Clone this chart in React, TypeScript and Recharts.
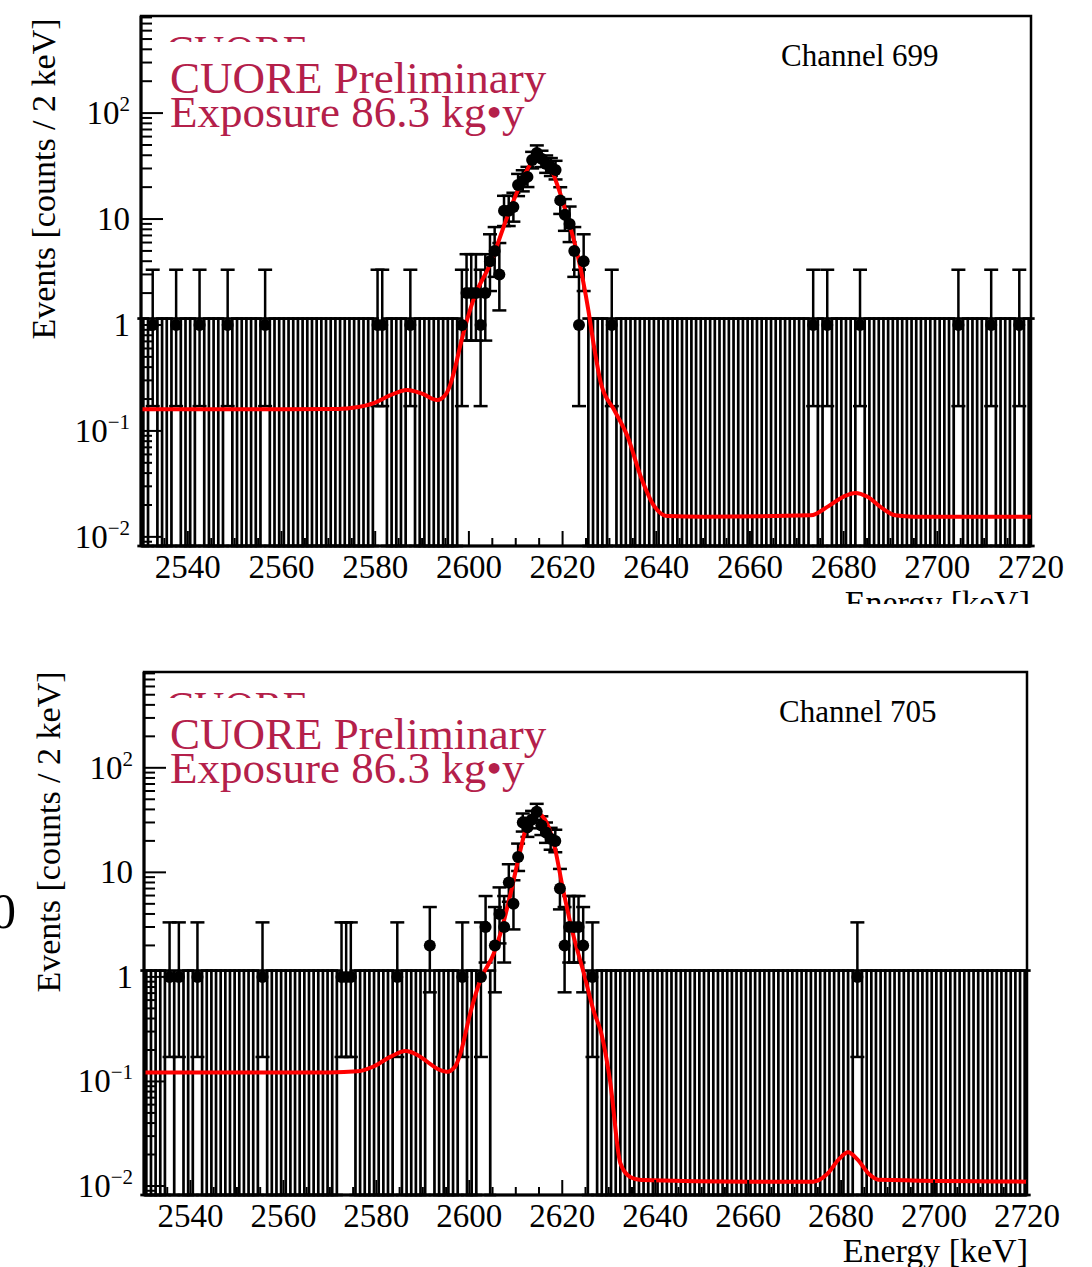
import React from "react";
import {
  ComposedChart,
  Scatter,
  Line,
  XAxis,
  YAxis,
  ErrorBar,
  ReferenceArea,
} from "recharts";

const SERIF = "'Liberation Serif', 'Times New Roman', serif";
const LABEL_RED = "#b4204a";

// histogram: 1 keV bins over the fit window
const E_MIN = 2530;
const E_MAX = 2720;
const BIN_WIDTH = 1;

const Y_MIN = 0.0082;
const Y_MAX = 825;

const X_LABEL_TICKS = [2540, 2560, 2580, 2600, 2620, 2640, 2660, 2680, 2700, 2720];
const X_MINOR_TICKS = [
  2530, 2535, 2540, 2545, 2550, 2555, 2560, 2565, 2570, 2575, 2580, 2585, 2590, 2595,
  2600, 2605, 2610, 2615, 2620, 2625, 2630, 2635, 2640, 2645, 2650, 2655, 2660, 2665,
  2670, 2675, 2680, 2685, 2690, 2695, 2700, 2705, 2710, 2715, 2720,
];

const Y_MAJOR = [0.01, 0.1, 1, 10, 100];
const Y_LABEL_BASE = ["10", "10", "1", "10", "10"];
const Y_LABEL_EXP = ["\u22122", "\u22121", "", "", "2"];
const Y_DECADES = [0.001, 0.01, 0.1, 1, 10, 100];
const Y_MULTS = [1, 2, 3, 4, 5, 6, 7, 8, 9];

// upper edge drawn for empty bins
const EMPTY_BIN_UPPER = 1.15;

// Channel 699 — non-empty bins (bin centre, keV) and counts
const CH699_BIN_E = [
  2532.5, 2537.5, 2542.5, 2548.5, 2556.5, 2580.5, 2581.5, 2587.5,
  2598.5, 2599.5, 2600.5, 2601.5, 2602.5, 2603.5, 2604.5, 2605.5, 2606.5, 2607.5,
  2608.5, 2609.5, 2610.5, 2611.5, 2612.5, 2613.5, 2614.5, 2615.5, 2616.5, 2617.5,
  2618.5, 2619.5, 2620.5, 2621.5, 2622.5, 2623.5, 2624.5,
  2630.5, 2673.5, 2676.5, 2683.5, 2704.5, 2711.5, 2717.5,
];
const CH699_COUNTS = [
  1, 1, 1, 1, 1, 1, 1, 1,
  1, 2, 2, 2, 1, 2, 4, 5, 3, 12,
  12, 13, 21, 23, 25, 36, 42, 37, 33, 31,
  29, 15, 11, 9, 5, 1, 4,
  1, 1, 1, 1, 1, 1, 1,
];
const CH699_FIT_E = [
  2530, 2560, 2572, 2576, 2579.7, 2583, 2586.8, 2590, 2593.2, 2595, 2596.1, 2597.2,
  2598.2, 2601.1, 2604.6, 2608.2, 2611.1, 2613.3, 2615.1, 2616.9, 2619, 2621.2, 2623.3,
  2625.5, 2626.6, 2628.2, 2631, 2633.9, 2636.7, 2639.6, 2642.4, 2650, 2673, 2676.7,
  2680, 2682.5, 2685, 2688, 2691, 2695, 2720,
];
const CH699_FIT_Y = [
  0.16, 0.16, 0.161, 0.167, 0.183, 0.215, 0.244, 0.225, 0.196, 0.22, 0.28, 0.42,
  0.65, 1.8, 3.8, 10.5, 21.8, 33.6, 37.2, 33.6, 20.2, 9.8, 4.4,
  1.38, 0.67, 0.28, 0.158, 0.088, 0.037, 0.0194, 0.0157, 0.0155, 0.016, 0.0194,
  0.024, 0.026, 0.024, 0.019, 0.016, 0.0155, 0.0155,
];

// Channel 705
const CH705_BIN_E = [
  2535.5, 2537.5, 2541.5, 2555.5, 2572.5, 2573.5, 2574.5, 2584.5, 2591.5,
  2598.5, 2602.5, 2603.5, 2605.5, 2606.5, 2607.5, 2608.5, 2609.5, 2610.5, 2611.5,
  2612.5, 2613.5, 2614.5, 2615.5, 2616.5, 2617.5, 2618.5, 2619.5, 2620.5, 2621.5,
  2622.5, 2623.5, 2624.5, 2626.5, 2683.5,
];
const CH705_COUNTS = [
  1, 1, 1, 1, 1, 1, 1, 1, 2,
  1, 1, 3, 2, 4, 3, 8, 5, 14, 30,
  27, 32, 38, 28, 24, 21, 20, 7, 2, 3,
  3, 3, 2, 1, 1,
];
const CH705_FIT_E = [
  2530, 2570, 2576, 2579.4, 2583, 2586.3, 2588.5, 2590.9, 2593, 2595.2, 2597, 2598.1,
  2600.2, 2602.4, 2605.2, 2606.7, 2608.9, 2611, 2612.8, 2614.6, 2616.7, 2618.5, 2619.9,
  2622.1, 2624.6, 2626.9, 2628.3, 2630.3, 2632.5, 2634.6, 2637, 2660, 2674, 2677,
  2679.5, 2681.5, 2683.5, 2686, 2688, 2720,
];
const CH705_FIT_Y = [
  0.122, 0.122, 0.125, 0.139, 0.172, 0.195, 0.182, 0.155, 0.133, 0.124, 0.14, 0.186,
  0.45, 0.94, 1.65, 2.6, 6.3, 16.4, 31.8, 36.8, 29.5, 16.4, 7.9,
  2.8, 1.1, 0.45, 0.3, 0.1, 0.0165, 0.0122, 0.0114, 0.011, 0.011, 0.013,
  0.018, 0.021, 0.018, 0.013, 0.0115, 0.011,
];

const Y_TICKS = Y_DECADES.flatMap((d) => Y_MULTS.map((m) => d * m)).filter(
  (v) => v >= Y_MIN && v <= Y_MAX
);

// approximate Poisson (Gehrels) interval, as ROOT draws for counts
function poissonLow(n: number) {
  const t = 1 - 1 / (9 * n) - 1 / (3 * Math.sqrt(n));
  return n - n * t * t * t;
}
function poissonHigh(n: number) {
  return Math.sqrt(n + 0.75) + 1;
}

function buildBins(binE: number[], counts: number[]) {
  const filled: { e: number; y: number; err: number[] }[] = [];
  const empty: { e: number; y: number; err: number[] }[] = [];
  const nBins = Math.round((E_MAX - E_MIN) / BIN_WIDTH);
  for (let i = 0; i < nBins; i++) {
    const e = E_MIN + (i + 0.5) * BIN_WIDTH;
    const k = binE.indexOf(e);
    if (k >= 0) {
      const n = counts[k];
      filled.push({ e, y: n, err: [poissonLow(n), poissonHigh(n)] });
    } else {
      empty.push({ e, y: EMPTY_BIN_UPPER, err: [EMPTY_BIN_UPPER - Y_MIN, 0] });
    }
  }
  return { filled, empty };
}

function XTick(props: any) {
  const { x, y, payload } = props;
  const v = payload.value;
  const major = X_LABEL_TICKS.includes(v);
  return (
    <g>
      <line x1={x} x2={x} y1={y} y2={y - (major ? 15 : 8)} stroke="#000" strokeWidth={2} />
      {major && (
        <text x={x} y={y + 32} textAnchor="middle" fontFamily={SERIF} fontSize={33} fill="#000">
          {v}
        </text>
      )}
    </g>
  );
}

function YTick(props: any) {
  const { x, y, payload } = props;
  const idx = Y_MAJOR.indexOf(payload.value);
  const major = idx >= 0;
  return (
    <g>
      <line x1={x} x2={x + (major ? 22 : 11)} y1={y} y2={y} stroke="#000" strokeWidth={2} />
      {major && (
        <text x={x - 11} y={y + 11} textAnchor="end" fontFamily={SERIF} fontSize={33} fill="#000">
          {Y_LABEL_BASE[idx]}
          {Y_LABEL_EXP[idx] && (
            <tspan dy={-13} fontSize={21}>
              {Y_LABEL_EXP[idx]}
            </tspan>
          )}
        </text>
      )}
    </g>
  );
}

const DataDot = (p: any) => <circle cx={p.cx} cy={p.cy} r={6} fill="#000" />;
const NoDot = () => <g />;

interface PanelProps {
  id: string;
  top: number;
  height: number;
  plotTop: number;
  axisWidth: number;
  rightMargin: number;
  xAxisHeight: number;
  binE: number[];
  counts: number[];
  fitE: number[];
  fitY: number[];
  channel: string;
  channelX: number;
  titleX: number;
  titleCenterY: number;
  energyX: number;
  energyY: number;
  fragment?: boolean;
}

function SpectrumPanel(p: PanelProps) {
  const { filled, empty } = buildBins(p.binE, p.counts);
  const fit = p.fitE.map((e, i) => ({ e, y: p.fitY[i] }));
  const t = p.plotTop;
  return (
    <div
      style={{
        position: "absolute",
        left: 0,
        top: p.top,
        width: 1092,
        height: p.height,
        overflow: "hidden",
      }}
    >
      <ComposedChart
        width={1092}
        height={p.height}
        data={fit}
        margin={{ top: t, right: p.rightMargin, bottom: 0, left: 0 }}
      >
        <XAxis
          dataKey="e"
          type="number"
          domain={[E_MIN, E_MAX]}
          allowDataOverflow
          ticks={X_MINOR_TICKS}
          interval={0}
          tick={<XTick />}
          tickLine={false}
          tickSize={0}
          tickMargin={0}
          height={p.xAxisHeight}
          axisLine={{ stroke: "#000", strokeWidth: 3 }}
        />
        <YAxis
          type="number"
          scale="log"
          domain={[Y_MIN, Y_MAX]}
          allowDataOverflow
          ticks={Y_TICKS}
          interval={0}
          tick={<YTick />}
          tickLine={false}
          tickSize={0}
          tickMargin={0}
          width={p.axisWidth}
          axisLine={{ stroke: "#000", strokeWidth: 3 }}
        />
        <Scatter data={empty} dataKey="y" shape={NoDot} isAnimationActive={false}>
          <ErrorBar dataKey="err" direction="y" width={6} stroke="#000" strokeWidth={2.7} isAnimationActive={false} />
        </Scatter>
        <Scatter data={filled} dataKey="y" shape={DataDot} isAnimationActive={false}>
          <ErrorBar dataKey="err" direction="y" width={7} stroke="#000" strokeWidth={2.5} isAnimationActive={false} />
        </Scatter>
        <Line
          dataKey="y"
          type="monotone"
          stroke="#ff0000"
          strokeWidth={4}
          dot={false}
          activeDot={false}
          isAnimationActive={false}
        />
        <ReferenceArea
          x1={E_MIN}
          x2={E_MAX}
          y1={Y_MIN}
          y2={Y_MAX}
          ifOverflow="visible"
          fill="none"
          stroke="#000"
          strokeWidth={2.5}
        />
      </ComposedChart>
      <svg
        width={1092}
        height={p.height}
        style={{ position: "absolute", left: 0, top: 0, pointerEvents: "none" }}
        fontFamily={SERIF}
      >
        <defs>
          <clipPath id={`cut-${p.id}`}>
            <rect x={160} y={t + 19} width={160} height={7} />
          </clipPath>
        </defs>
        <text x={166} y={t + 49} fontSize={42} fill={LABEL_RED} clipPath={`url(#cut-${p.id})`}>
          CUORE
        </text>
        <text x={170} y={t + 77} fontSize={45} fill={LABEL_RED}>
          CUORE Preliminary
        </text>
        <text x={170} y={t + 111} fontSize={45} fill={LABEL_RED}>
          Exposure 86.3 kg•y
        </text>
        <text x={p.channelX} y={t + 50} fontSize={31} fill="#000">
          {p.channel}
        </text>
        <text
          x={p.titleX}
          y={p.titleCenterY}
          fontSize={34}
          fill="#000"
          textAnchor="middle"
          transform={`rotate(-90 ${p.titleX} ${p.titleCenterY})`}
        >
          Events [counts / 2 keV]
        </text>
        <text x={p.energyX} y={p.energyY} fontSize={34} fill="#000" textAnchor="end">
          Energy [keV]
        </text>
        {p.fragment && (
          <text x={-9} y={278} fontSize={50} fill="#000">
            0
          </text>
        )}
      </svg>
    </div>
  );
}

export default function App() {
  return (
    <div
      style={{
        position: "absolute",
        left: 0,
        top: 0,
        width: 1092,
        height: 1267,
        background: "#fff",
        overflow: "hidden",
      }}
    >
      <SpectrumPanel
        id="a"
        top={0}
        height={604}
        plotTop={16}
        axisWidth={141}
        rightMargin={61}
        xAxisHeight={58}
        binE={CH699_BIN_E}
        counts={CH699_COUNTS}
        fitE={CH699_FIT_E}
        fitY={CH699_FIT_Y}
        channel="Channel 699"
        channelX={781}
        titleX={55}
        titleCenterY={179}
        energyX={1030}
        energyY={614}
      />
      <SpectrumPanel
        id="b"
        top={650}
        height={617}
        plotTop={22}
        axisWidth={144}
        rightMargin={65}
        xAxisHeight={72}
        binE={CH705_BIN_E}
        counts={CH705_COUNTS}
        fitE={CH705_FIT_E}
        fitY={CH705_FIT_Y}
        channel="Channel 705"
        channelX={779}
        titleX={60}
        titleCenterY={182}
        energyX={1028}
        energyY={612}
        fragment
      />
    </div>
  );
}
